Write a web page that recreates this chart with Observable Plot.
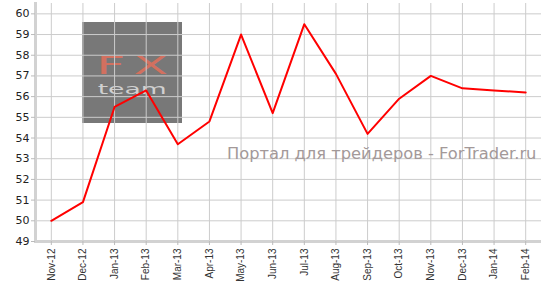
<!DOCTYPE html>
<html>
<head>
<meta charset="utf-8">
<script src="https://cdn.jsdelivr.net/npm/d3@7"></script>
<script src="https://cdn.jsdelivr.net/npm/@observablehq/plot@0.6"></script>
<style>
  html, body { margin: 0; padding: 0; background: #fff; }
  #wrap { position: relative; width: 543px; height: 290px; }
  #logo { position: absolute; left: 82px; top: 22px; width: 100px; height: 101px; background: #787878; z-index: 0; overflow: hidden; }
  #logo .fx { position: absolute; left: 0; top: 34px; width: 100px; height: 20px; text-align: center; font-family: "DejaVu Sans", sans-serif; font-size: 24px; color: #d2705f; line-height: 20px; }
  #logo .fx span { display: inline-block; transform: scaleX(2.1); letter-spacing: 4px; padding-left: 4px; }
  #logo .team { position: absolute; left: 0; top: 60px; width: 100px; height: 15px; text-align: center; font-family: "DejaVu Sans", sans-serif; font-size: 14px; color: #d0d0d0; line-height: 15px; }
  #logo .team span { display: inline-block; transform: scaleX(1.9); }
  #chart { position: absolute; left: 0; top: 0; z-index: 1; }
  #mark { position: absolute; left: 227px; top: 144px; z-index: 2; font-family: "DejaVu Sans", sans-serif; font-size: 16.3px; color: #a39999; white-space: nowrap; }
</style>
</head>
<body>
<div id="wrap">
  <div id="logo"><div class="fx"><span>FX</span></div><div class="team"><span>team</span></div></div>
  <div id="chart"></div>
  <div id="mark">Портал для трейдеров - ForTrader.ru</div>
</div>
<script>
const months = ["Nov-12","Dec-12","Jan-13","Feb-13","Mar-13","Apr-13","May-13","Jun-13","Jul-13","Aug-13","Sep-13","Oct-13","Nov-13","Dec-13","Jan-14","Feb-14"];
const values = [50.0, 50.9, 55.5, 56.3, 53.7, 54.8, 59.0, 55.2, 59.5, 57.1, 54.2, 55.9, 57.0, 56.4, 56.3, 56.2];
const yTicks = [49, 50, 51, 52, 53, 54, 55, 56, 57, 58, 59, 60];

const data = months.map((m, i) => ({month: m, value: values[i]}));

const chart = Plot.plot({
  width: 543,
  height: 290,
  marginLeft: 35,
  marginRight: 2,
  marginTop: 3,
  marginBottom: 49,
  style: {background: "transparent", color: "#333"},
  x: {type: "point", domain: months, padding: 0.5, round: false},
  y: {domain: [49, 60.5]},
  marks: [
    Plot.gridX(months, {stroke: "#cccccc", strokeOpacity: 1, strokeWidth: 1}),
    Plot.gridY(yTicks, {stroke: "#cccccc", strokeOpacity: 1, strokeWidth: 1}),
    Plot.frame({anchor: "left", stroke: "#d2d2d2", strokeWidth: 3}),
    Plot.ruleY([49], {stroke: "#d2d2d2", strokeWidth: 3}),
    Plot.axisY(yTicks, {tickSize: 4, tickPadding: 2, fontSize: 11, fontFamily: "DejaVu Sans, sans-serif", fill: "#222", stroke: "#bbb", label: null}),
    Plot.axisX(months, {tickSize: 4, tickPadding: 3, tickRotate: -90, fontSize: 10, fontFamily: "Liberation Sans, Arial, sans-serif", fill: "#333", stroke: "#bbb", label: null}),
    Plot.line(data, {x: "month", y: "value", stroke: "#ff0000", strokeWidth: 2})
  ]
});
document.getElementById("chart").appendChild(chart);
</script>
</body>
</html>
